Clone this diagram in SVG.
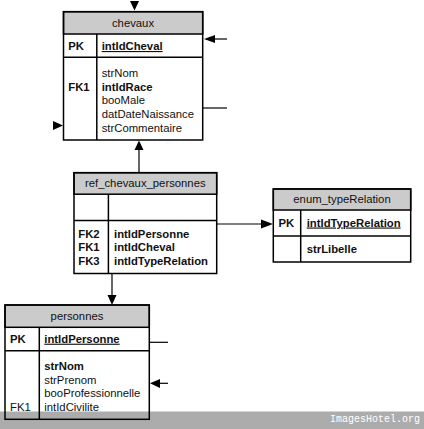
<svg xmlns="http://www.w3.org/2000/svg" width="424" height="429" viewBox="0 0 424 429">
<style>
  .box { fill: none; stroke: #000; stroke-width: 1.5; }
  .hdr { fill: #cbcbcb; stroke: #000; stroke-width: 1.5; }
  .sep { stroke: #000; stroke-width: 1.5; fill: none; }
  .conn { stroke: #000; stroke-width: 1.2; fill: none; }
  .head { fill: #000; stroke: none; }
  text { font-family: "Liberation Sans", Arial, sans-serif; font-size: 11.3px; fill: #111; }
  .t { text-anchor: middle; }
  .b { font-weight: bold; }
  .u { font-weight: bold; text-decoration: underline; }
  .wm { font-family: "Liberation Mono", "DejaVu Sans Mono", monospace; font-size: 10px; fill: #fff; }
</style>
<rect x="0" y="0" width="424" height="429" fill="#fff"/>
<rect x="0" y="411.5" width="424" height="17.5" fill="#acacac"/>
<text class="wm" x="330" y="422">ImagesHotel.org</text>

<g id="connectors">
  <polygon class="head" points="130,1 139,1 134.5,10.5"/>
  <line class="conn" x1="215" y1="39" x2="227" y2="39"/>
  <polygon class="head" points="204,39 215,35 215,43"/>
  <line class="conn" x1="203" y1="108" x2="227" y2="108"/>
  <polygon class="head" points="53,121 53,130 63,125.5"/>
  <line class="conn" x1="139" y1="149" x2="139" y2="172.7"/>
  <polygon class="head" points="139,140.5 134.5,150 143.5,150"/>
  <line class="conn" x1="217" y1="224" x2="262" y2="224"/>
  <polygon class="head" points="273,224 261,219.5 261,228.5"/>
  <line class="conn" x1="112" y1="273.5" x2="112" y2="296"/>
  <polygon class="head" points="107.5,295 116.5,295 112,305"/>
  <line class="conn" x1="149.3" y1="342.3" x2="168" y2="342.3"/>
  <line class="conn" x1="159" y1="383.3" x2="168" y2="383.3"/>
  <polygon class="head" points="150,383.3 160,379 160,388"/>
</g>

<g id="chevaux">
  <rect class="hdr" x="63.5" y="11.7" width="139.2" height="22.3"/>
  <rect class="box" x="63.5" y="11.7" width="139.2" height="128.3"/>
  <line class="sep" x1="63.5" y1="57.3" x2="202.7" y2="57.3"/>
  <line class="sep" x1="96.8" y1="34" x2="96.8" y2="140"/>
  <text class="t" x="133" y="27.3">chevaux</text>
  <text class="b" x="68.3" y="50">PK</text>
  <text class="u" x="101.7" y="50">intIdCheval</text>
  <text class="b" x="68.3" y="90.5">FK1</text>
  <text x="101.7" y="76.5">strNom</text>
  <text class="b" x="101.7" y="90.5">intIdRace</text>
  <text x="101.7" y="104.3">booMale</text>
  <text x="101.7" y="118">datDateNaissance</text>
  <text x="101.7" y="131.8">strCommentaire</text>
</g>

<g id="ref_chevaux_personnes">
  <rect class="hdr" x="74" y="172.7" width="142.7" height="21.5"/>
  <rect class="box" x="74" y="172.7" width="142.7" height="100.8"/>
  <line class="sep" x1="74" y1="220.5" x2="216.7" y2="220.5"/>
  <line class="sep" x1="108.4" y1="194.2" x2="108.4" y2="273.5"/>
  <text class="t" x="145.3" y="187">ref_chevaux_personnes</text>
  <text class="b" x="78.3" y="237.5">FK2</text>
  <text class="b" x="78.3" y="251.3">FK1</text>
  <text class="b" x="78.3" y="265">FK3</text>
  <text class="b" x="114" y="237.5">intIdPersonne</text>
  <text class="b" x="114" y="251.3">intIdCheval</text>
  <text class="b" x="114" y="265">intIdTypeRelation</text>
</g>

<g id="enum_typeRelation">
  <rect class="hdr" x="273.3" y="189" width="137.4" height="21"/>
  <rect class="box" x="273.3" y="189" width="137.4" height="73"/>
  <line class="sep" x1="273.3" y1="236" x2="410.7" y2="236"/>
  <line class="sep" x1="300.7" y1="210" x2="300.7" y2="262"/>
  <text class="t" x="342" y="203">enum_typeRelation</text>
  <text class="b" x="278.5" y="226.5">PK</text>
  <text class="u" x="306.7" y="226.5">intIdTypeRelation</text>
  <text class="b" x="306.7" y="253">strLibelle</text>
</g>

<g id="personnes">
  <rect class="hdr" x="5" y="305" width="144.3" height="22.3"/>
  <rect class="box" x="5" y="305" width="144.3" height="114.3"/>
  <line class="sep" x1="5" y1="350.7" x2="149.3" y2="350.7"/>
  <line class="sep" x1="39.3" y1="327.3" x2="39.3" y2="419.3"/>
  <text class="t" x="77" y="319.8">personnes</text>
  <text class="b" x="10" y="342.7">PK</text>
  <text class="u" x="44.3" y="342.7">intIdPersonne</text>
  <text class="b" x="44.3" y="370">strNom</text>
  <text x="44.3" y="383.6">strPrenom</text>
  <text x="44.3" y="397.2">booProfessionnelle</text>
  <text x="10" y="410.8">FK1</text>
  <text x="44.3" y="410.8">intIdCivilite</text>
</g>
</svg>
